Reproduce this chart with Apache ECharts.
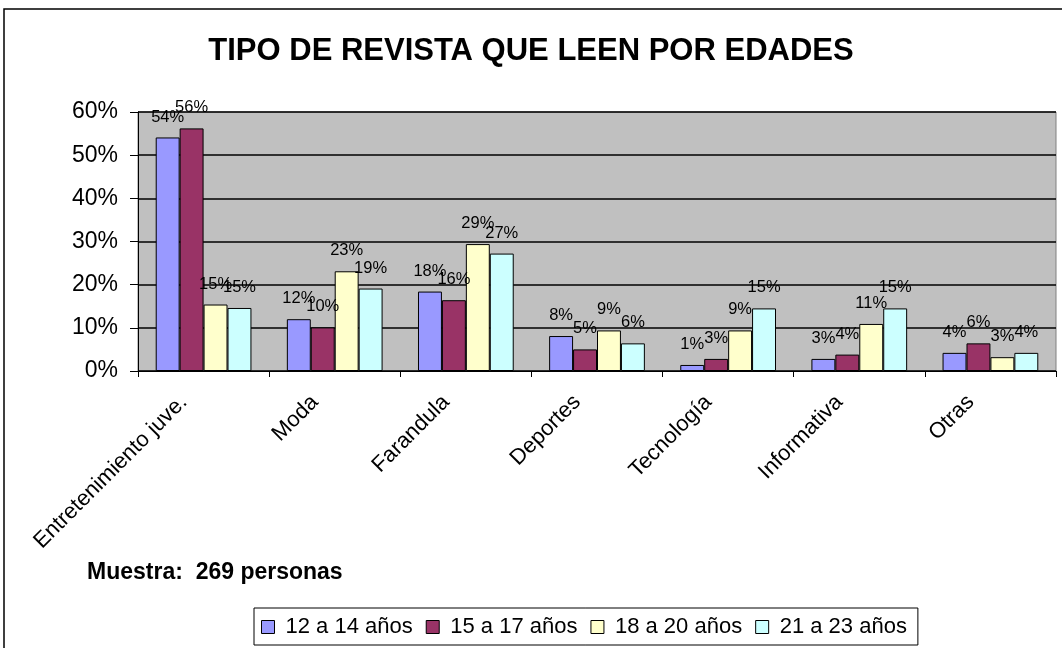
<!DOCTYPE html>
<html>
<head>
<meta charset="utf-8">
<script src="https://cdn.jsdelivr.net/npm/echarts@6/dist/echarts.min.js"></script>
<style>
  html, body { margin: 0; padding: 0; background: #fff; }
  #chart { width: 1062px; height: 648px; }
</style>
</head>
<body>
<div id="chart"></div>
<script>
  // datos (porcentajes)
  var categorias = ['Entretenimiento juve.', 'Moda', 'Farandula', 'Deportes', 'Tecnología', 'Informativa', 'Otras'];
  var edad12a14 = [54.1, 12.0, 18.4, 8.1, 1.4, 2.8, 4.2];
  var edad15a17 = [56.2, 10.1, 16.4, 5.0, 2.8, 3.8, 6.4];
  var edad18a20 = [15.4, 23.1, 29.4, 9.4, 9.4, 10.9, 3.2];
  var edad21a23 = [14.6, 19.1, 27.2, 6.4, 14.5, 14.5, 4.2];
  var nombres = ['12 a 14 años', '15 a 17 años', '18 a 20 años', '21 a 23 años'];
  var colores = ['#9999FF', '#993366', '#FFFFCC', '#CCFFFF'];

  var fuente = 'Arial, "Liberation Sans", sans-serif';
  var chart = echarts.init(document.getElementById('chart'));

  function serie(i, datos) {
    return {
      name: nombres[i],
      type: 'bar',
      data: datos,
      barGap: '0%',
      barCategoryGap: '27%',
      itemStyle: { color: colores[i], borderColor: '#000', borderWidth: 1 },
      label: {
        show: true,
        position: 'top',
        distance: 12,
        fontFamily: fuente,
        fontSize: 16.5,
        color: '#000',
        formatter: function (p) { return Math.round(p.value) + '%'; }
      }
    };
  }

  chart.setOption({
    animation: false,
    textStyle: { fontFamily: fuente },
    title: {
      text: 'TIPO DE REVISTA QUE LEEN POR EDADES',
      left: 'center',
      top: 31,
      textStyle: { fontFamily: fuente, fontSize: 31, fontWeight: 'bold', color: '#000' }
    },
    legend: {
      data: nombres,
      left: 254,
      top: 608,
      itemGap: 13,
      itemWidth: 13,
      itemHeight: 13,
      icon: 'rect',
      borderColor: '#000',
      borderWidth: 1,
      padding: [8, 11, 7, 7],
      itemStyle: { borderColor: '#000', borderWidth: 1 },
      textStyle: { fontFamily: fuente, fontSize: 22, color: '#000', padding: [0, 0, 0, 6] }
    },
    grid: { left: 138, right: 6, top: 112, bottom: 277, backgroundColor: '#C0C0C0', show: true, borderColor: '#808080', borderWidth: 1 },
    xAxis: {
      type: 'category',
      data: categorias,
      axisLine: { lineStyle: { color: '#000' } },
      axisTick: { show: true, length: 6, lineStyle: { color: '#000' } },
      axisLabel: { rotate: 45, interval: 0, margin: 8, padding: [0, 28, 0, 0], fontFamily: fuente, fontSize: 22, color: '#000' }
    },
    yAxis: {
      type: 'value',
      min: 0,
      max: 60,
      interval: 10,
      axisLine: { show: true, lineStyle: { color: '#000' } },
      axisTick: { show: true, length: 8, lineStyle: { color: '#000' } },
      splitLine: { lineStyle: { color: '#000', width: 1.5 } },
      axisLabel: { formatter: '{value}%', fontFamily: fuente, fontSize: 23, color: '#000', margin: 20 }
    },
    graphic: [
      {
        type: 'rect',
        shape: { x: 4, y: 9, width: 1100, height: 700 },
        style: { fill: 'none', stroke: '#000', lineWidth: 1.5 },
        z: -1
      },
      {
        type: 'text',
        left: 87,
        top: 561,
        style: { text: 'Muestra:  269 personas', fontFamily: fuente, fontSize: 23, fontWeight: 'bold', fill: '#000' }
      }
    ],
    series: [
      serie(0, edad12a14),
      serie(1, edad15a17),
      serie(2, edad18a20),
      serie(3, edad21a23)
    ]
  });
</script>
</body>
</html>
